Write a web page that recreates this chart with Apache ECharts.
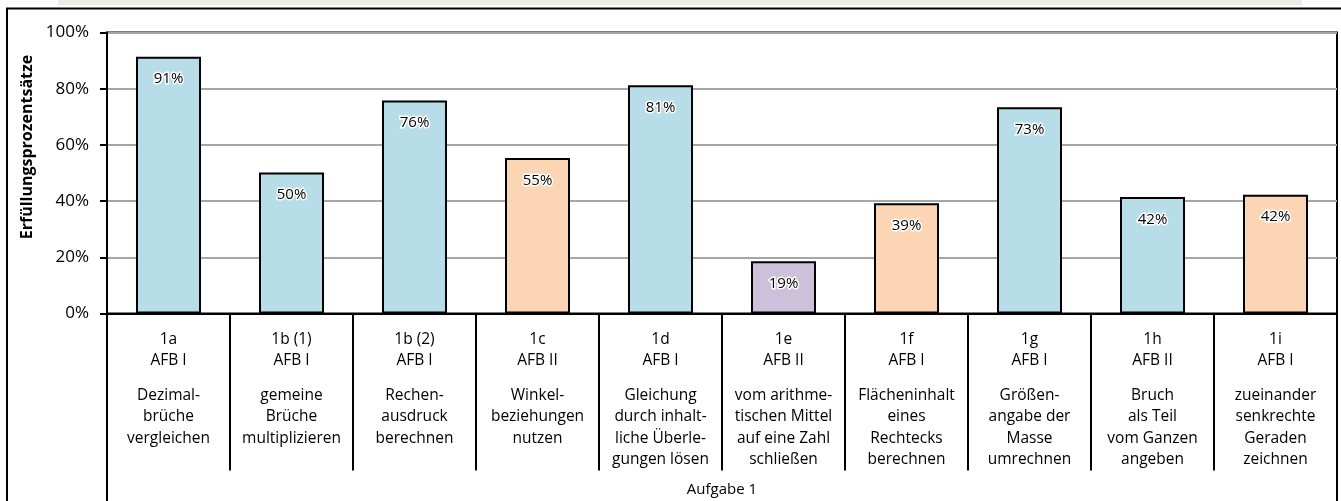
<!DOCTYPE html>
<html>
<head>
<meta charset="utf-8">
<script src="https://cdn.jsdelivr.net/npm/echarts@6/dist/echarts.min.js"></script>
<style>
  html, body { margin: 0; padding: 0; background: #fff; }
  #chart { width: 1341px; height: 501px; }
</style>
</head>
<body>
<div id="chart"></div>
<script>
// Aufgaben (Kategorien)
const tasks = ['1a', '1b (1)', '1b (2)', '1c', '1d', '1e', '1f', '1g', '1h', '1i']
const afbLevels = ['AFB I', 'AFB I', 'AFB I', 'AFB II', 'AFB I', 'AFB II', 'AFB I', 'AFB I', 'AFB II', 'AFB I']
const descriptions = [
  'Dezimal-\nbrüche\nvergleichen',
  'gemeine\nBrüche\nmultiplizieren',
  'Rechen-\nausdruck\nberechnen',
  'Winkel-\nbeziehungen\nnutzen',
  'Gleichung\ndurch inhalt-\nliche Überle-\ngungen lösen',
  'vom arithme-\ntischen Mittel\nauf eine Zahl\nschließen',
  'Flächeninhalt\neines\nRechtecks\nberechnen',
  'Größen-\nangabe der\nMasse\numrechnen',
  'Bruch\nals Teil\nvom Ganzen\nangeben',
  'zueinander\nsenkrechte\nGeraden\nzeichnen'
]
// Erfüllungsprozentsätze in %
const rates = [91.4, 50.2, 75.8, 55.3, 81.2, 18.6, 39.2, 73.4, 41.5, 42.3]
// Gruppe je Aufgabe (bestimmt die Balkenfarbe)
const groups = ['a', 'a', 'a', 'b', 'a', 'c', 'b', 'a', 'a', 'b']
const groupLabel = ['Aufgabe 1']
const yTicks = [0, 20, 40, 60, 80, 100]

const palette = { a: '#b7dde8', b: '#fcd5b4', c: '#ccc0da' }
const font = '"Open Sans", "DejaVu Sans", sans-serif'

const chart = echarts.init(document.getElementById('chart'))

chart.setOption({
  backgroundColor: '#fff',
  animation: false,
  textStyle: { fontFamily: font },
  graphic: [
    {
      type: 'rect',
      shape: { x: 58, y: 0, width: 1244, height: 5 },
      style: { fill: '#eeece1' },
      silent: true
    },
    {
      type: 'rect',
      shape: { x: 7, y: 8.5, width: 1345, height: 510 },
      style: { fill: 'none', stroke: '#000', lineWidth: 2 },
      silent: true
    },
    {
      type: 'text',
      x: 27,
      y: 147,
      rotation: Math.PI / 2,
      style: {
        text: 'Erfüllungsprozentsätze',
        font: 'bold 16px ' + font,
        fill: '#000',
        align: 'center',
        verticalAlign: 'middle'
      },
      silent: true
    }
  ],
  grid: {
    left: 107,
    right: 4,
    top: 32.5,
    bottom: 187.5,
    show: true,
    borderColor: '#000',
    borderWidth: 2,
    outerBoundsMode: 'none'
  },
  xAxis: [
    {
      type: 'category',
      data: tasks,
      axisLine: { show: true, lineStyle: { color: '#000', width: 2 } },
      axisTick: {
        show: true,
        interval: 0,
        alignWithLabel: false,
        length: 157,
        lineStyle: { color: '#000', width: 2 }
      },
      axisLabel: {
        interval: 0,
        margin: 15,
        color: '#000',
        formatter: (v, i) => [
          '{t|' + v + '}',
          '{t|' + afbLevels[i] + '}',
          '{g| }',
          descriptions[i].split('\n').map(s => '{t|' + s + '}').join('\n')
        ].join('\n'),
        rich: {
          t: { fontSize: 15.5, lineHeight: 21.5, fontFamily: font, color: '#000' },
          g: { fontSize: 6, lineHeight: 13 }
        }
      }
    },
    {
      type: 'category',
      data: groupLabel,
      position: 'bottom',
      axisLine: { show: false },
      axisTick: {
        show: true,
        interval: 0,
        length: 190,
        lineStyle: { color: '#000', width: 2 }
      },
      axisLabel: { margin: 169, fontSize: 15, color: '#000' }
    }
  ],
  yAxis: {
    type: 'value',
    min: yTicks[0],
    max: yTicks[yTicks.length - 1],
    interval: 20,
    axisLine: { show: true, lineStyle: { color: '#000', width: 2 } },
    axisTick: { show: true, length: 7, lineStyle: { color: '#000', width: 2 } },
    axisLabel: { formatter: '{value}%', fontSize: 17, color: '#000', margin: 18 },
    splitLine: { lineStyle: { color: '#a6a6a6', width: 2 } }
  },
  series: [
    {
      type: 'bar',
      barWidth: 65,
      data: rates.map((v, i) => ({
        value: v,
        itemStyle: { color: palette[groups[i]] }
      })),
      itemStyle: { borderColor: '#000', borderWidth: 2 },
      label: {
        show: true,
        position: 'insideTop',
        distance: 15,
        fontSize: 15,
        color: '#000',
        textBorderColor: '#fff',
        textBorderWidth: 3,
        formatter: p => Math.round(p.value) + '%'
      }
    }
  ]
})
</script>
</body>
</html>
